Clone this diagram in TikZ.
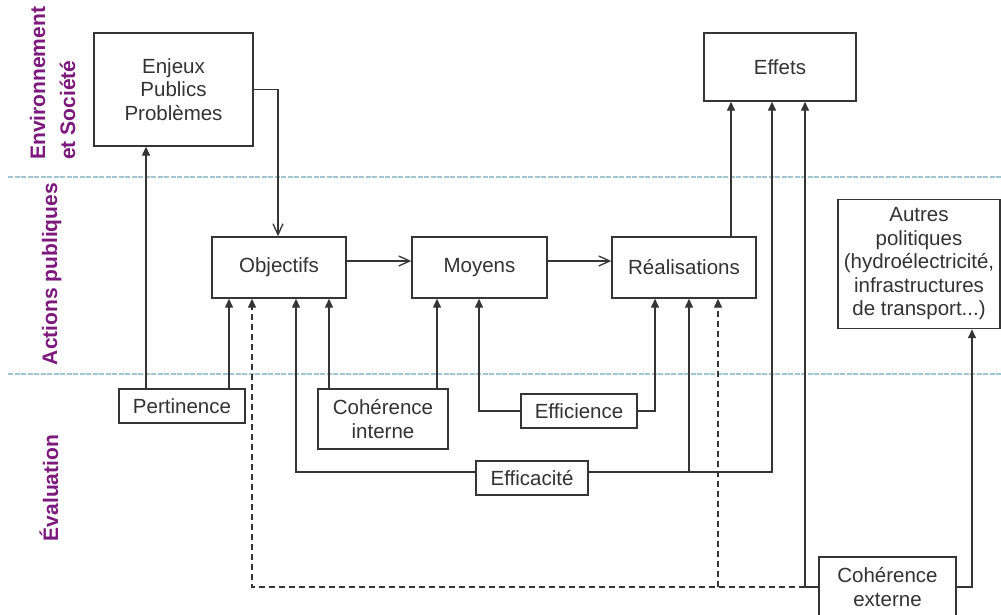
\documentclass[tikz,border=0pt]{standalone}
\usepackage{fontspec}
\setmainfont{Liberation Sans}
\usetikzlibrary{arrows.meta}
\definecolor{ink}{HTML}{333333}
\definecolor{edge}{HTML}{353535}
\definecolor{band}{RGB}{160,198,210}
\definecolor{zone}{RGB}{125,25,125}

\begin{document}
\begin{tikzpicture}[x=1pt,y=-1pt,
  box/.style={draw=edge,line width=1.4pt,rectangle,inner sep=0pt,text=ink,
    font=\fontsize{20.5}{23.5}\selectfont,align=center},
  link/.style={draw=edge,line width=1.4pt},
  tri/.style={link,-{Triangle[length=9pt,width=8pt]}},
  barb/.style={link,-{Straight Barb[length=11pt,width=10pt,line width=1.3pt]}},
  dashlink/.style={tri,dash pattern=on 6.5pt off 3.5pt},
  zonelabel/.style={text=zone,font=\fontsize{21}{30}\selectfont\bfseries,
    rotate=90,inner sep=0pt},
  divider/.style={draw=band,line width=1.6pt,dash pattern=on 5pt off 1.5pt}]

% page
\fill[white] (0,0) rectangle (1001,614);
\useasboundingbox (0,0) rectangle (1001,614);

% band separators
\draw[divider] (8,177) -- (1001,177);
\draw[divider] (8,374) -- (1001,374);

% band titles
\node[zonelabel,anchor=base west] (envA) at (45,160) {Environnement};
\node[zonelabel,anchor=base west] (envB) at (75,160) {et Société};
\node[zonelabel,anchor=base] (act) at (57,274) {Actions publiques};
\node[zonelabel,anchor=base] (eva) at (58,488) {Évaluation};

% boxes
\node[box,minimum width=159pt,minimum height=113pt] (enjeux) at (173.5,89.5) {Enjeux\\Publics\\Problèmes};
\node[box,minimum width=152pt,minimum height=68pt] (effets) at (780,67) {Effets};
\node[box,minimum width=134pt,minimum height=61pt] (obj) at (279,267.5) {Objectifs};
\node[box,minimum width=135pt,minimum height=61pt] (moy) at (479.5,267.5) {Moyens};
\node[box,minimum width=144pt,minimum height=61pt] (real) at (684,267.5) {Réalisations};
\node[box,minimum width=162pt,minimum height=129pt] (autres) at (919,264)
  {Autres\\politiques\\(hydroélectricité,\\infrastructures\\de transport...)};
\node[box,minimum width=126pt,minimum height=34pt] (pert) at (182,406) {Pertinence};
\node[box,minimum width=130pt,minimum height=60pt] (cohint) at (383,419) {Cohérence\\interne};
\node[box,minimum width=116pt,minimum height=34pt] (effic) at (579,411) {Efficience};
\node[box,minimum width=112pt,minimum height=34pt] (efca) at (532,478) {Efficacité};
\node[box,minimum width=137pt,minimum height=60pt] (cohext) at (887.5,587) {Cohérence\\externe};

% connector lanes and rows
\coordinate (lPE) at (146,0);
\coordinate (lPO) at (229,0);
\coordinate (lXO) at (252,0);
\coordinate (lEO) at (278,0);
\coordinate (lAO) at (296,0);
\coordinate (lCO) at (329,0);
\coordinate (lCM) at (437,0);
\coordinate (lFM) at (479,0);
\coordinate (lFR) at (655,0);
\coordinate (lAR) at (689,0);
\coordinate (lXR) at (718,0);
\coordinate (lRE) at (731,0);
\coordinate (lAE) at (772,0);
\coordinate (lXE) at (805,0);
\coordinate (lXA) at (972,0);
\coordinate (rFlow) at (0,261);
\coordinate (rE) at (0,472);
\coordinate (rC) at (0,587);

% main chain
\draw[barb] (enjeux.east) -| (obj.north -| lEO);
\draw[barb] (obj.east |- rFlow) -- (moy.west |- rFlow);
\draw[barb] (moy.east |- rFlow) -- (real.west |- rFlow);
\draw[tri] (real.north -| lRE) -- (effets.south -| lRE);

% pertinence
\draw[tri] (pert.north -| lPE) -- (enjeux.south -| lPE);
\draw[tri] (pert.north -| lPO) -- (obj.south -| lPO);

% internal coherence
\draw[tri] (cohint.north -| lCO) -- (obj.south -| lCO);
\draw[tri] (cohint.north -| lCM) -- (moy.south -| lCM);

% efficiency
\draw[tri] (effic.west) -| (moy.south -| lFM);
\draw[tri] (effic.east) -| (real.south -| lFR);

% effectiveness
\draw[tri] (efca.west |- rE) -| (obj.south -| lAO);
\draw[tri] (efca.east |- rE) -| (effets.south -| lAE);
\draw[tri] (lAR |- rE) -- (real.south -| lAR);

% external coherence
\draw[tri] (cohext.west |- rC) -| (effets.south -| lXE);
\draw[dashlink] (lXE |- rC) -| (obj.south -| lXO);
\draw[dashlink] (lXR |- rC) -- (real.south -| lXR);
\draw[tri] (cohext.east |- rC) -| (autres.south -| lXA);
\end{tikzpicture}
\end{document}
